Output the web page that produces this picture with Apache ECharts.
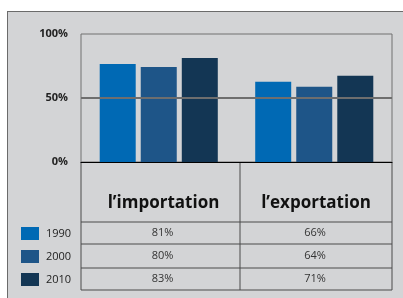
<!DOCTYPE html>
<html>
<head>
<meta charset="utf-8">
<style>
html, body { margin: 0; padding: 0; background: #fff; }
#frame { position: absolute; left: 7px; top: 11px; width: 400px; height: 300px; background: #d3d4d6; border: 1px solid #6b6b6b; }
#main { position: absolute; left: 0; top: 0; width: 403px; height: 298px; }
</style>
<script src="https://cdn.jsdelivr.net/npm/echarts@6/dist/echarts.min.js"></script>
</head>
<body>
<div id="frame"></div>
<div id="main"></div>
<script>
// categories and series
var categories = ['l’importation', 'l’exportation'];
var years = ['1990', '2000', '2010'];
var colors = ['#0069b4', '#1e5588', '#133654'];
// bar heights as drawn (in %)
var bars1990 = [76.6, 62.6];
var bars2000 = [74.2, 58.7];
var bars2010 = [81.3, 67.3];
// values printed in the table
var table1990 = ['81%', '66%'];
var table2000 = ['80%', '64%'];
var table2010 = ['83%', '71%'];
var yTicks = [0, 50, 100];

var chart = echarts.init(document.getElementById('main'), null, { renderer: 'canvas' });

var gridLeft = 81, gridRight = 392, gridTop = 34, gridBottom = 162;
var rowLines = [222, 244, 268, 290];
var midX = 240;
var lineColor = '#4a4a4a';
var fontFam = '"Open Sans", "Noto Sans", sans-serif';

function barSeries(name, data, i) {
    return {
        name: name,
        type: 'bar',
        data: data,
        barWidth: 36,
        barGap: '14%',
        itemStyle: { color: colors[i] },
        silent: true,
        z: 3
    };
}

var tables = [table1990, table2000, table2010];
var graphics = [];

// table borders
graphics.push({ type: 'line', shape: { x1: gridLeft, y1: gridBottom, x2: gridLeft, y2: rowLines[3] }, style: { stroke: lineColor, lineWidth: 1 } });
graphics.push({ type: 'line', shape: { x1: gridRight, y1: gridBottom, x2: gridRight, y2: rowLines[3] }, style: { stroke: lineColor, lineWidth: 1 } });
graphics.push({ type: 'line', shape: { x1: midX, y1: gridBottom, x2: midX, y2: rowLines[3] }, style: { stroke: lineColor, lineWidth: 1 } });
rowLines.forEach(function (y) {
    graphics.push({ type: 'line', shape: { x1: gridLeft, y1: y, x2: gridRight, y2: y }, style: { stroke: lineColor, lineWidth: 1 } });
});

// header texts
var colCenters = [(gridLeft + midX) / 2 + 3, (midX + gridRight) / 2];
categories.forEach(function (c, j) {
    graphics.push({ type: 'text', x: colCenters[j], y: 203, style: { text: c, fill: '#111', font: 'bold 17px ' + fontFam, align: 'center', verticalAlign: 'middle' } });
});

// rows: legend + values
var rowCenters = [233, 256, 279];
years.forEach(function (yr, i) {
    graphics.push({ type: 'rect', shape: { x: 21, y: rowCenters[i] - 6, width: 18, height: 13 }, style: { fill: colors[i] } });
    graphics.push({ type: 'text', x: 46, y: rowCenters[i] + 1, style: { text: yr, fill: '#222', font: '11px ' + fontFam, align: 'left', verticalAlign: 'middle' } });
    tables[i].forEach(function (v, j) {
        graphics.push({ type: 'text', x: colCenters[j] - 1, y: rowCenters[i], style: { text: v, fill: '#333', font: '11px ' + fontFam, align: 'center', verticalAlign: 'middle' } });
    });
});

var option = {
    animation: false,
    backgroundColor: 'transparent',
    grid: {
        left: gridLeft, right: 403 - gridRight, top: gridTop, bottom: 298 - gridBottom,
        show: true, borderColor: '#707070', borderWidth: 1, backgroundColor: 'transparent'
    },
    xAxis: {
        type: 'category',
        data: categories,
        axisLine: { show: true, lineStyle: { color: '#000', width: 1 } },
        axisTick: { show: false },
        axisLabel: { show: false }
    },
    yAxis: {
        type: 'value',
        min: yTicks[0],
        max: yTicks[yTicks.length - 1],
        interval: 50,
        axisLine: { show: false },
        axisTick: { show: false },
        splitLine: { show: false },
        axisLabel: {
            formatter: '{value}%',
            color: '#222',
            fontWeight: 'bold',
            fontSize: 11,
            fontFamily: fontFam,
            margin: 13
        }
    },
    series: [
        barSeries(years[0], bars1990, 0),
        barSeries(years[1], bars2000, 1),
        barSeries(years[2], bars2010, 2),
        {
            type: 'line',
            data: [],
            silent: true,
            markLine: {
                symbol: 'none',
                silent: true,
                label: { show: false },
                lineStyle: { color: '#6e6e6e', width: 2, type: 'solid' },
                data: [{ yAxis: 50 }]
            },
            z: 2
        }
    ],
    graphic: graphics
};

chart.setOption(option);
</script>
</body>
</html>
